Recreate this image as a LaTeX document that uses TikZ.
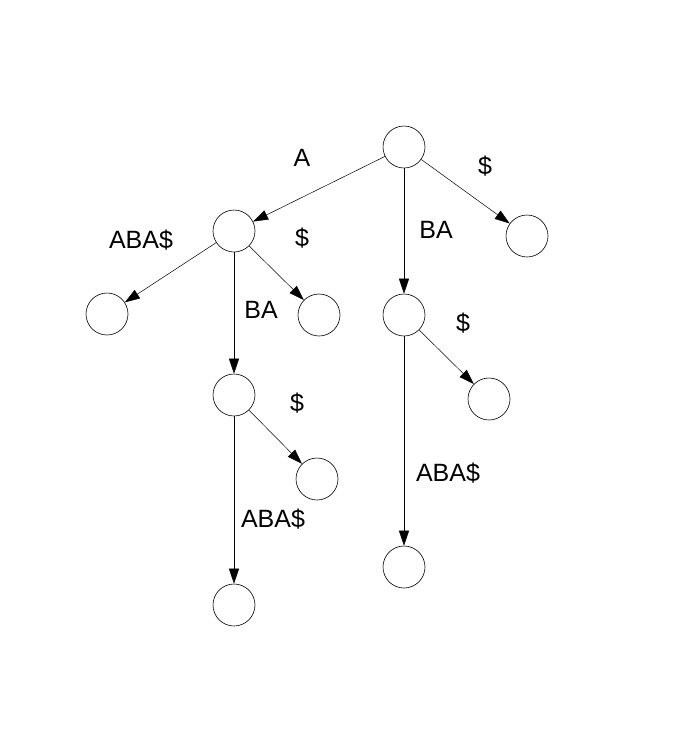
\documentclass[tikz,border=0pt]{standalone}
\usepackage{fontspec}
\setmainfont{Liberation Sans}
\usetikzlibrary{arrows.meta}

\tikzset{every picture/.style={line width=0.75pt}}
\tikzset{
  state/.style={draw, circle, minimum size=42pt, inner sep=0pt, line width=0.6pt},
  edge/.style={line width=0.5pt, -{Triangle[length=15pt,width=10pt]}},
  lbl/.style={inner sep=0.75pt, font=\fontsize{25}{30}\selectfont}
}

\begin{document}
\begin{tikzpicture}[x=1pt,y=1pt,yscale=-1,xscale=1]
\useasboundingbox (0,0) rectangle (680,756);

% States
\node [state] (root) at (404,147) {};
\node [state] (nA) at (234,231) {};
\node [state] (nEnd) at (527,236) {};
\node [state] (nBA) at (404,315) {};
\node [state] (nAABA) at (107,314) {};
\node [state] (nAEnd) at (319,315) {};
\node [state] (nABA) at (234,395) {};
\node [state] (nABAEnd) at (317,479) {};
\node [state] (nABAABA) at (234,605) {};
\node [state] (nBAEnd) at (489,399) {};
\node [state] (nBAABA) at (404,567) {};

% Edges
\draw [edge] (root) -- (nA);
\draw [edge] (root) -- (nEnd);
\draw [edge] (root) -- (nBA);
\draw [edge] (nA) -- (nAABA);
\draw [edge] (nA) -- (nAEnd);
\draw [edge] (nA) -- (nABA);
\draw [edge] (nABA) -- (nABAEnd);
\draw [edge] (nABA) -- (nABAABA);
\draw [edge] (nBA) -- (nBAEnd);
\draw [edge] (nBA) -- (nBAABA);

% Text Node
\node [lbl] (tA) at (302,158) {A};
\node [lbl] (tEnd) at (485,166) {\$};
\node [lbl] (tBA) at (436,230) {BA};
\node [lbl] (tAABA) at (141,240) {ABA\$};
\node [lbl] (tAEnd) at (302,238) {\$};
\node [lbl] (tABA) at (261,310) {BA};
\node [lbl] (tBAEnd) at (463,323) {\$};
\node [lbl] (tABAEnd) at (297,403) {\$};
\node [lbl] (tBAABA) at (448,473) {ABA\$};
\node [lbl] (tABAABA) at (273,519) {ABA\$};

\end{tikzpicture}
\end{document}
